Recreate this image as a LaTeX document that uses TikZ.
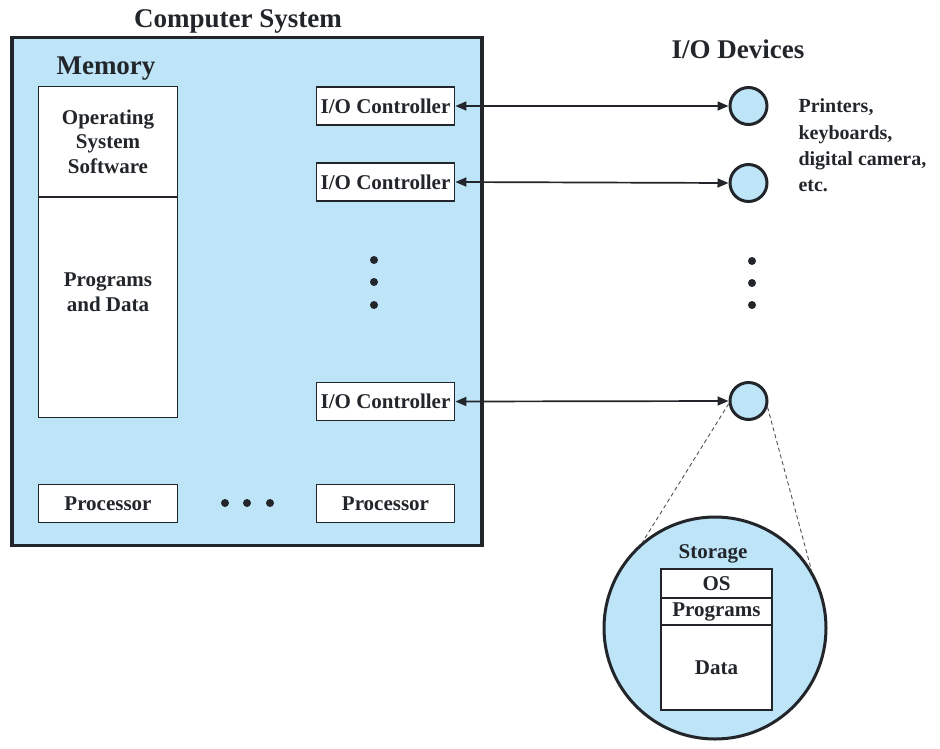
\documentclass[tikz,border=0pt]{standalone}
\usepackage{fontspec}
\setmainfont{Liberation Serif}[BoldFont={Liberation Serif Bold}]
\usetikzlibrary{arrows.meta}
\definecolor{sysblue}{RGB}{190,228,248}
\definecolor{edge}{RGB}{34,38,42}
\begin{document}
\begin{tikzpicture}[x=1pt,y=-1pt,
  txt/.style={text=edge, font=\fontsize{21}{24.5}\selectfont\bfseries},
  bigtxt/.style={text=edge, font=\fontsize{27}{30}\selectfont\bfseries},
  box/.style={draw=edge, line width=1.8pt, fill=white, inner sep=0pt,
              minimum width=138pt, minimum height=38pt, txt},
  dev/.style={circle, draw=edge, line width=3pt, fill=sysblue,
              minimum size=37pt, inner sep=0pt},
  dotmark/.style={circle, fill=edge, minimum size=8pt, inner sep=0pt},
  link/.style={draw=edge, line width=1.7pt,
               {Triangle[length=11pt,width=9pt]}-{Triangle[length=11pt,width=9pt]}},
  zoomline/.style={draw=edge!80, line width=0.9pt, dash pattern=on 4pt off 3pt},
  stbox/.style={draw=edge, line width=2.5pt, fill=white, inner sep=0pt,
                minimum width=111pt, txt}]
\useasboundingbox (0,0) rectangle (940,748);

% computer system
\node[draw=edge, line width=3.5pt, fill=sysblue, minimum width=470pt,
      minimum height=508pt, inner sep=0pt] (sys) at (247,291.5) {};
\node[bigtxt, anchor=base] (systitle) at (238,27) {Computer System};
\node[bigtxt, anchor=base] (memtitle) at (106,74) {Memory};

% memory
\node[box, minimum width=139pt, minimum height=110pt, align=center] (ossw) at (108,141.5)
  {Operating\\System\\Software};
\node[box, minimum width=139pt, minimum height=220pt] (progbox) at (108,307.5) {};
\node[txt, align=center] (progtxt) at (108,292) {Programs\\and Data};

% controllers
\node[box] (c1) at (385.5,106) {I/O Controller};
\node[box] (c2) at (385.5,182) {I/O Controller};
\node[box] (c3) at (385.5,401.5) {I/O Controller};

\node[dotmark] (vd1) at (374,260) {};
\node[dotmark] (vd2) at (374,282) {};
\node[dotmark] (vd3) at (374,305) {};

% processors
\node[box, minimum width=139pt] (p1) at (108,503.5) {Processor};
\node[box] (p2) at (385.5,503.5) {Processor};
\node[dotmark] (hd1) at (225,503) {};
\node[dotmark] (hd2) at (247,503) {};
\node[dotmark] (hd3) at (270,503) {};

% devices
\node[bigtxt, anchor=base] (devtitle) at (738,58) {I/O Devices};
\node[dev] (d1) at (748.5,106) {};
\node[dev] (d2) at (748.5,183) {};
\node[dev] (d3) at (748.5,401) {};
\node[dotmark] (ed1) at (752,261) {};
\node[dotmark] (ed2) at (752,283) {};
\node[dotmark] (ed3) at (752,305) {};
\node[anchor=west, align=left, text=edge,
      font=\fontsize{20}{26.3}\selectfont\bfseries] (devtxt) at (795,145.5)
  {Printers,\\keyboards,\\digital camera,\\etc.};

\draw[link] (c1.east) -- (d1.west);
\draw[link] (c2.east) -- (d2.west);
\draw[link] (c3.east) -- (d3.west);

% storage
\node[circle, draw=edge, line width=3pt, fill=sysblue, minimum size=222pt,
      inner sep=0pt] (stor) at (715,628) {};
\draw[zoomline] (d3.188) -- (stor.130);
\draw[zoomline] (d3.342) -- (stor.31);
\node[txt, anchor=base] (stortitle) at (713,558) {Storage};
\node[stbox, minimum height=29pt] (sos) at (716.5,583.5) {OS};
\node[stbox, minimum height=27pt] (sprog) at (716.5,611.5) {Programs};
\node[stbox, minimum height=85pt] (sdata) at (716.5,667.5) {Data};
\end{tikzpicture}
\end{document}
